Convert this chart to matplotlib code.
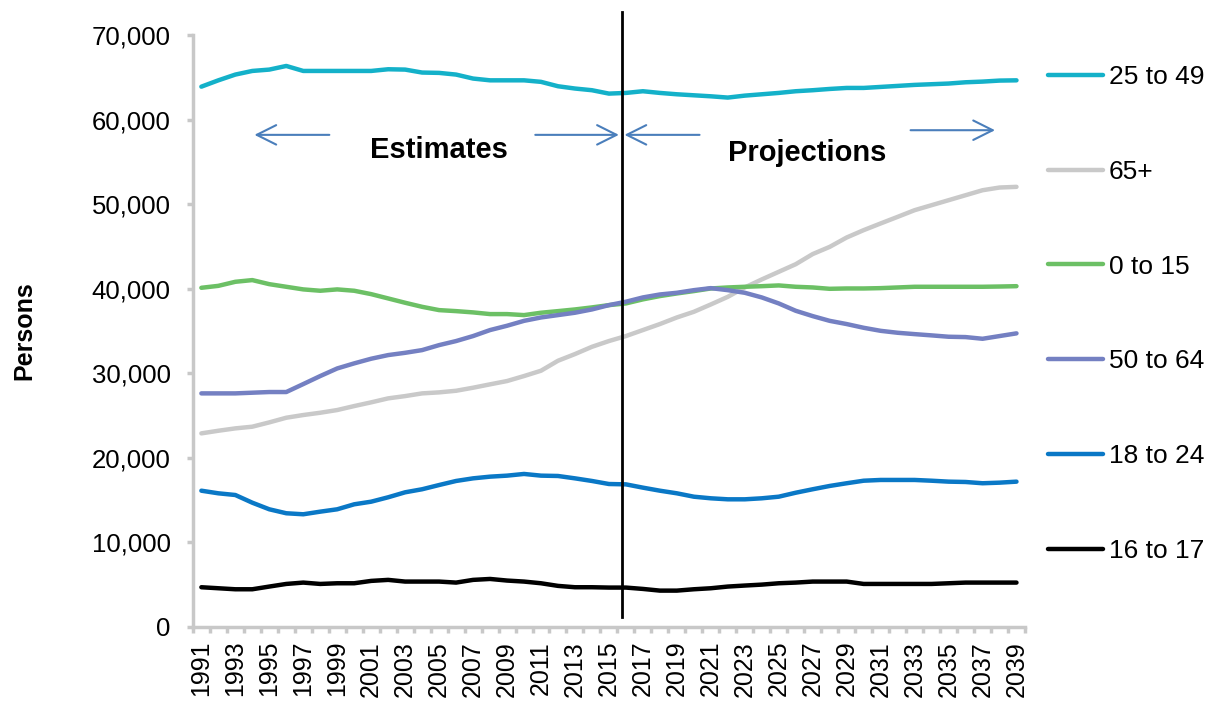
import matplotlib
matplotlib.use("Agg")
import matplotlib.pyplot as plt
from matplotlib.ticker import FuncFormatter, MultipleLocator, FixedLocator
import numpy as np

plt.rcParams['font.family'] = ['Liberation Sans', 'DejaVu Sans']

years = list(range(1991, 2040))

age_25_49 = [63900, 64650, 65330, 65760, 65920, 66350, 65760, 65760, 65760, 65760,
             65760, 65960, 65920, 65570, 65530, 65330, 64860, 64650, 64650, 64650,
             64470, 63950, 63680, 63480, 63080, 63160, 63360, 63160, 63000, 62880,
             62760, 62610, 62840, 63000, 63160, 63360, 63480, 63630, 63750, 63750,
             63870, 63990, 64110, 64190, 64270, 64420, 64500, 64620, 64650]
age_65_plus = [22890, 23200, 23480, 23680, 24190, 24740, 25060, 25330, 25650, 26120,
               26560, 27030, 27300, 27620, 27740, 27930, 28290, 28690, 29080, 29670,
               30300, 31480, 32270, 33130, 33810, 34400, 35110, 35820, 36600, 37270,
               38140, 39040, 40150, 41100, 42000, 42900, 44100, 44950, 46060, 46930,
               47720, 48500, 49290, 49880, 50470, 51060, 51650, 51970, 52050]
age_0_15 = [40110, 40340, 40820, 41020, 40540, 40230, 39920, 39760, 39920, 39760,
            39360, 38850, 38340, 37860, 37470, 37350, 37200, 37000, 37000, 36880,
            37160, 37350, 37550, 37790, 38060, 38260, 38740, 39130, 39440, 39720,
            40030, 40150, 40230, 40300, 40390, 40230, 40150, 39990, 40030, 40030,
            40070, 40150, 40230, 40230, 40230, 40230, 40230, 40260, 40300]
age_50_64 = [27620, 27620, 27620, 27700, 27780, 27780, 28720, 29670, 30570, 31170,
             31720, 32150, 32420, 32740, 33330, 33810, 34400, 35110, 35620, 36200,
             36600, 36880, 37160, 37550, 38060, 38460, 38970, 39320, 39520, 39830,
             40070, 39830, 39520, 38970, 38260, 37390, 36760, 36200, 35820, 35380,
             35020, 34790, 34630, 34480, 34320, 34280, 34080, 34400, 34720]
age_18_24 = [16110, 15800, 15600, 14690, 13910, 13440, 13320, 13630, 13910, 14500,
             14810, 15330, 15920, 16280, 16780, 17260, 17570, 17770, 17890, 18090,
             17890, 17850, 17570, 17260, 16900, 16860, 16470, 16110, 15800, 15400,
             15210, 15090, 15090, 15210, 15400, 15870, 16280, 16670, 16990, 17290,
             17380, 17380, 17380, 17290, 17180, 17140, 16990, 17060, 17180]
age_16_17 = [4690, 4570, 4450, 4450, 4770, 5080, 5240, 5080, 5160, 5160,
             5440, 5560, 5360, 5360, 5360, 5240, 5560, 5670, 5480, 5360,
             5160, 4850, 4690, 4690, 4650, 4650, 4490, 4290, 4290, 4450,
             4570, 4770, 4890, 5000, 5160, 5240, 5360, 5360, 5360, 5080,
             5080, 5080, 5080, 5080, 5160, 5240, 5240, 5240, 5240]

series = [
    ("25 to 49", age_25_49, "#14B1C9"),
    ("65+", age_65_plus, "#C9C9C9"),
    ("0 to 15", age_0_15, "#6CC065"),
    ("50 to 64", age_50_64, "#7480C2"),
    ("18 to 24", age_18_24, "#0A78C6"),
    ("16 to 17", age_16_17, "#000000"),
]

fig = plt.figure(figsize=(12.13, 7.02), dpi=100)
ax = fig.add_axes([0.159, 0.107, 0.686, 0.843])

for name, vals, col in series:
    ax.plot(years, vals, color=col, linewidth=3.2, label=name, solid_capstyle='round')

ax.set_xlim(1990.5, 2039.5)
ax.set_ylim(0, 70000)

# axes styling (Excel-like)
for s in ['top', 'right']:
    ax.spines[s].set_visible(False)
for s in ['left', 'bottom']:
    ax.spines[s].set_color('#C8C8C8')
    ax.spines[s].set_linewidth(2.5)

ax.yaxis.set_major_locator(MultipleLocator(10000))
ax.yaxis.set_major_formatter(FuncFormatter(lambda v, p: f"{int(v):,}"))
ax.tick_params(axis='y', labelsize=18.5, color='#C8C8C8', width=2.5, length=4, pad=12)

ax.xaxis.set_major_locator(FixedLocator(years[::2]))
ax.set_xticklabels([str(y) for y in years[::2]], rotation=90)
ax.xaxis.set_minor_locator(FixedLocator(np.arange(1990.5, 2040, 1)))
ax.tick_params(axis='x', which='major', length=0, labelsize=18, pad=10)
ax.tick_params(axis='x', which='minor', length=4, width=2.5, color='#C8C8C8')

ax.set_ylabel("Persons", fontsize=18, fontweight='bold', labelpad=40)

# estimates / projections divider
ax.plot([2015.75, 2015.75], [1200, 72700], color='black', linewidth=2, clip_on=False, zorder=5)

arrow_col = '#4A7EBB'
arr = dict(arrowstyle='->', color=arrow_col, lw=1.5, mutation_scale=35)
ax.annotate('', xy=(1993.96, 58200), xytext=(1998.7, 58200), arrowprops=arr)
ax.annotate('', xy=(2015.75, 58200), xytext=(2010.5, 58200), arrowprops=arr)
ax.annotate('', xy=(2015.75, 58200), xytext=(2020.5, 58200), arrowprops=arr)
ax.annotate('', xy=(2037.9, 58750), xytext=(2032.6, 58750), arrowprops=arr)

ax.text(2005.0, 56400, "Estimates", fontsize=21, fontweight='bold', ha='center', va='center')
ax.text(2026.65, 56000, "Projections", fontsize=21, fontweight='bold', ha='center', va='center')

leg = ax.legend(loc='upper left', bbox_to_anchor=(1.015, 0.967), frameon=False,
                fontsize=19, handlelength=2.1, handletextpad=0.2, labelspacing=2.68,
                borderaxespad=0)

fig.savefig("out.png", dpi=100, facecolor='white')
